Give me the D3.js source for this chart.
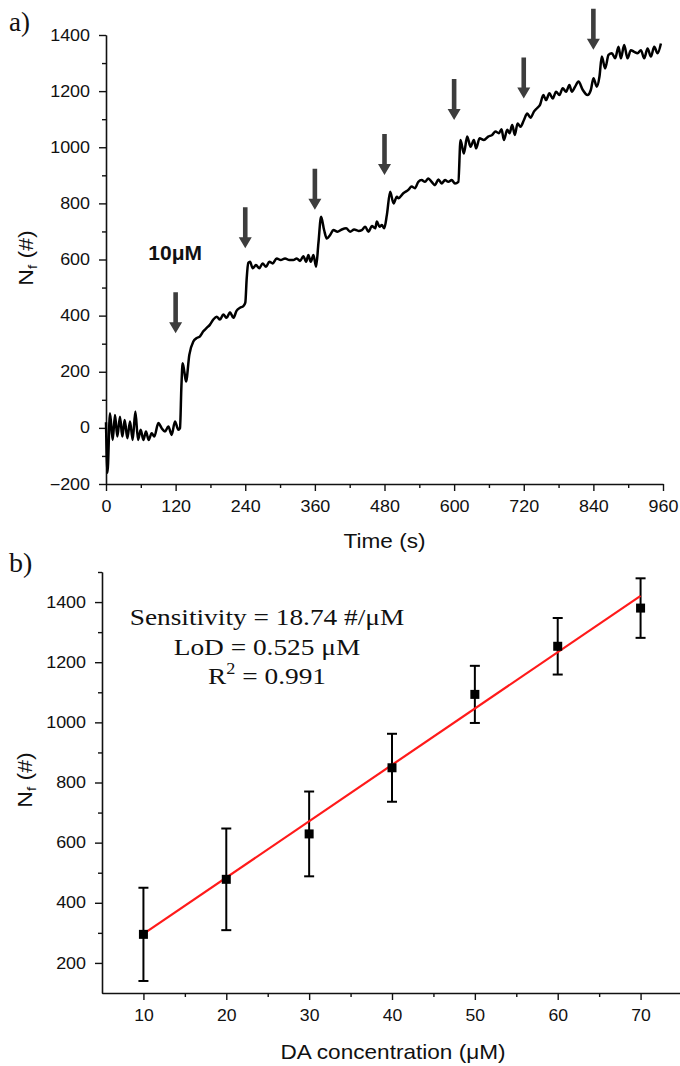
<!DOCTYPE html>
<html><head><meta charset="utf-8">
<script src="https://cdn.jsdelivr.net/npm/d3@7"></script>
<style>body{margin:0;background:#fff}</style>
</head><body><svg id="c" width="680" height="1066"></svg>
<script>
// ---------- Panel a data ----------
const traceTime = [0,2.5,6.9,11.5,15.5,19.5,24.1,28.1,32.2,36.8,41.4,46,50.6,55.2,59.8,64.4,68.9,73.5,78.7,83.3,90.2,96,101.7,107.5,113.2,118.9,124.7,127.5,130,132.1,135,137.9,143.6,150.5,156.3,162,167.7,173.5,179.2,185,190.7,196.5,202.2,208,213.7,219.5,225.2,231,236.7,240.1,242.5,245.3,248.2,252.8,258.5,264.3,270,275.8,281.5,287.3,294.2,301.1,308.6,316,322.9,328.7,334.5,340.2,344.8,348.8,352.9,357.5,362.1,366.1,370.7,375.9,380.5,386.3,392,398.9,406.4,413.9,420.8,427.7,435.2,440.9,446.7,452.4,458.2,464,466.8,471.4,475.5,479.5,484.1,489.8,495.6,501.3,503.8,512.4,521,526.8,532.5,538.3,544,549.8,555.5,561.3,567,572.8,578.5,584.3,590,595.8,601.5,607.3,611,616.8,622.5,628.3,634,638,643.8,651.3,658.7,665.6,671.4,677.1,681.7,685.8,691.5,695.5,700.1,704.7,709.3,714.5,720.3,726,731.8,737.5,743.3,748,753.8,758.4,764.2,770,775.7,781.5,787.2,793,798.7,802.8,808.6,814.3,821.8,829.8,835.6,840.2,845.9,850.5,854.5,860.3,866.1,871.8,877.6,883.3,887.4,893.1,898.9,904.6,910.4,916.1,921.9,927.6,933.4,939.1,944.9,950.6,956.4];
const traceCount = [20,-160,52,-43,46,-31,40,-31,28,-37,23,-43,58,-43,-7,-43,-13,-43,-19,-31,17,-1,-13,5,-25,23,-7,-1,150,230,200,165,260,308,320,326,344,356,368,386,396,386,404,392,412,392,418,428,434,446,533,588,592,569,580,569,586,574,592,586,604,598,604,598,598,604,595,612,592,616,592,616,574,658,752,705,675,687,705,699,707,711,699,707,702,705,717,699,719,711,735,717,723,711,759,841,800,824,818,836,848,860,854,877,883,877,889,877,865,885,871,883,877,883,871,877,1026,978,1038,1002,1026,996,1032,1026,1038,1044,1056,1050,1064,1026,1062,1050,1079,1044,1085,1073,1097,1120,1105,1127,1140,1151,1186,1168,1192,1174,1198,1186,1210,1198,1222,1198,1216,1234,1204,1186,1204,1246,1216,1252,1323,1281,1329,1335,1317,1358,1317,1364,1317,1346,1340,1335,1346,1317,1352,1323,1358,1335,1370];
const arrowTime = [120,240,360,480,600,720,840];
const arrowTipCount = [337,640,777,901,1097,1174,1347];
const aTicksX = [0,120,240,360,480,600,720,840,960];
const aMinorX = [60,180,300,420,540,660,780,900];
const aTicksY = [-200,0,200,400,600,800,1000,1200,1400];
const aMinorY = [-100,100,300,500,700,900,1100,1300];

// ---------- Panel b data ----------
const concentration = [10,20,30,40,50,60,70];
const meanCount = [295,478,629,849,1093,1253,1380];
const errCount = [155,169,141,113,95,94,99];
const fitSlope = 18.74, fitIntercept = 109;
const bTicksX = [10,20,30,40,50,60,70];
const bMinorX = [15,25,35,45,55,65];
const bTicksY = [200,400,600,800,1000,1200,1400];
const bMinorY = [300,500,700,900,1100,1300,1500];

const svg = d3.select("#c");
svg.append("rect").attr("width",680).attr("height",1066).attr("fill","#fff");
const SANS = "'Liberation Sans', Arial, sans-serif";
const SERIF = "'Liberation Serif', 'Times New Roman', serif";
const fmt = d3.format("d");

function stext(x, y, size, family, opts = {}) {
  const t = svg.append("text")
    .attr("transform", `translate(${x},${y}) rotate(${opts.rot||0}) scale(${opts.sx||1},1)`)
    .attr("font-size", size).attr("font-family", family)
    .attr("font-weight", opts.weight || "normal")
    .attr("text-anchor", opts.anchor || "start")
    .attr("fill", opts.fill || "#111");
  return t;
}

function styleAxis(g, isY, sx, off) {
  g.select(".domain").attr("stroke","#111").attr("stroke-width",1.6);
  g.selectAll(".tick line").attr("stroke","#111").attr("stroke-width",1.4);
  g.selectAll(".tick text").attr("font-family",SANS).attr("font-size",16).attr("fill","#111")
    .attr("transform",`scale(${sx},1)`);
  if (isY) g.selectAll(".tick text").attr("x", -off/sx);
  else g.selectAll(".tick text").attr("y", off).attr("dy","0.71em");
}

// ================= Panel a =================
const xA = d3.scaleLinear().domain([0,960]).range([106,663]);
const yA = d3.scaleLinear().domain([-200,1400]).range([484,35]);

const gxa = svg.append("g").attr("transform",`translate(0,${yA(-200)})`);
gxa.call(d3.axisBottom(xA).tickValues(aMinorX).tickSize(4).tickSizeOuter(0).tickFormat(""));
gxa.call(g=>g.selectAll(".tick line").attr("stroke","#111").attr("stroke-width",1.4));
const gxa2 = svg.append("g").attr("transform",`translate(0,${yA(-200)})`);
gxa2.call(d3.axisBottom(xA).tickValues(aTicksX).tickSize(7).tickSizeOuter(0).tickFormat(fmt));
styleAxis(gxa2,false,1.12,17);

const gya = svg.append("g").attr("transform",`translate(${xA(0)},0)`);
gya.call(d3.axisLeft(yA).tickValues(aMinorY).tickSize(4).tickSizeOuter(0).tickFormat(""));
gya.call(g=>g.selectAll(".tick line").attr("stroke","#111").attr("stroke-width",1.4));
const gya2 = svg.append("g").attr("transform",`translate(${xA(0)},0)`);
gya2.call(d3.axisLeft(yA).tickValues(aTicksY).tickSize(7).tickSizeOuter(0).tickFormat(fmt));
styleAxis(gya2,true,1.12,16);

const traceData = traceTime.map((t,i)=>[t,traceCount[i]]);
svg.append("path").datum(traceData)
  .attr("d", d3.line().x(d=>xA(d[0])).y(d=>yA(d[1])).curve(d3.curveMonotoneX))
  .attr("fill","none").attr("stroke","#000").attr("stroke-width",2.5)
  .attr("stroke-linejoin","round");

// arrows
const arrowLen = 41, headLen = 11, shaftHW = 2.3, headHW = 6.5;
svg.append("g").selectAll("path").data(arrowTime).join("path")
  .attr("d",(t,i)=>{
    const x = xA(t), y = yA(arrowTipCount[i]);
    return `M${x-shaftHW},${y-arrowLen} L${x+shaftHW},${y-arrowLen} L${x+shaftHW},${y-headLen} L${x+headHW},${y-headLen} L${x},${y} L${x-headHW},${y-headLen} L${x-shaftHW},${y-headLen} Z`;
  })
  .attr("fill","#3d3d3d");

stext(xA(73), yA(597), 20, SANS, {weight:"bold", sx:1.05}).text("10μM");

// axis titles
stext((xA(0)+xA(960))/2, 548, 20, SANS, {anchor:"middle", sx:1.13}).text("Time (s)");
{
  const t = stext(33, 258, 20, SANS, {anchor:"middle", rot:-90, sx:1.15});
  t.append("tspan").text("N");
  t.append("tspan").attr("font-size",13).attr("dy",4).text("f");
  t.append("tspan").attr("dy",-4).text(" (#)");
}
stext(9, 31, 27, SERIF).text("a)");

// ================= Panel b =================
const xB = d3.scaleLinear().domain([5,75]).range([102,682]);
const yB = d3.scaleLinear().domain([100,1500]).range([993,572]);

const gxb = svg.append("g").attr("transform",`translate(0,${yB(100)})`);
gxb.call(d3.axisBottom(xB).tickValues(bMinorX).tickSize(4).tickSizeOuter(0).tickFormat(""));
gxb.call(g=>g.selectAll(".tick line").attr("stroke","#111").attr("stroke-width",1.4));
const gxb2 = svg.append("g").attr("transform",`translate(0,${yB(100)})`);
gxb2.call(d3.axisBottom(xB).tickValues(bTicksX).tickSize(7).tickSizeOuter(0).tickFormat(fmt));
styleAxis(gxb2,false,1.1,17);

const gyb = svg.append("g").attr("transform",`translate(${xB(5)},0)`);
gyb.call(d3.axisLeft(yB).tickValues(bMinorY).tickSize(4).tickSizeOuter(0).tickFormat(""));
gyb.call(g=>g.selectAll(".tick line").attr("stroke","#111").attr("stroke-width",1.4));
const gyb2 = svg.append("g").attr("transform",`translate(${xB(5)},0)`);
gyb2.call(d3.axisLeft(yB).tickValues(bTicksY).tickSize(7).tickSizeOuter(0).tickFormat(fmt));
styleAxis(gyb2,true,1.12,16);

// error bars
const eb = svg.append("g").attr("stroke","#000").attr("stroke-width",2);
concentration.forEach((c,i)=>{
  const x = xB(c), y1 = yB(meanCount[i]+errCount[i]), y0 = yB(meanCount[i]-errCount[i]);
  eb.append("line").attr("x1",x).attr("x2",x).attr("y1",y1).attr("y2",y0);
  eb.append("line").attr("x1",x-5).attr("x2",x+5).attr("y1",y1).attr("y2",y1);
  eb.append("line").attr("x1",x-5).attr("x2",x+5).attr("y1",y0).attr("y2",y0);
});
// fit line
svg.append("line")
  .attr("x1",xB(concentration[0])).attr("y1",yB(fitSlope*concentration[0]+fitIntercept))
  .attr("x2",xB(concentration[6])).attr("y2",yB(fitSlope*concentration[6]+fitIntercept))
  .attr("stroke","#ff1a1a").attr("stroke-width",2.2);
// squares
svg.append("g").selectAll("rect").data(concentration).join("rect")
  .attr("x",(c)=>xB(c)-4.5).attr("y",(c,i)=>yB(meanCount[i])-4.5)
  .attr("width",9).attr("height",9).attr("fill","#000");

// annotation
stext(267, 625, 24, SERIF, {anchor:"middle", sx:1.14}).text("Sensitivity = 18.74 #/μM");
stext(267, 655, 24, SERIF, {anchor:"middle", sx:1.14}).text("LoD = 0.525 μM");
{
  const t = stext(267, 684, 24, SERIF, {anchor:"middle", sx:1.14});
  t.append("tspan").text("R");
  t.append("tspan").attr("font-size",16).attr("dy",-10).text("2");
  t.append("tspan").attr("dy",10).text(" = 0.991");
}

stext((xB(5)+xB(75))/2 + 1, 1059, 20, SANS, {anchor:"middle", sx:1.13}).text("DA concentration (μM)");
{
  const t = stext(32, 780, 20, SANS, {anchor:"middle", rot:-90, sx:1.15});
  t.append("tspan").text("N");
  t.append("tspan").attr("font-size",13).attr("dy",4).text("f");
  t.append("tspan").attr("dy",-4).text(" (#)");
}
stext(9, 572, 28, SERIF).text("b)");
</script></body></html>
